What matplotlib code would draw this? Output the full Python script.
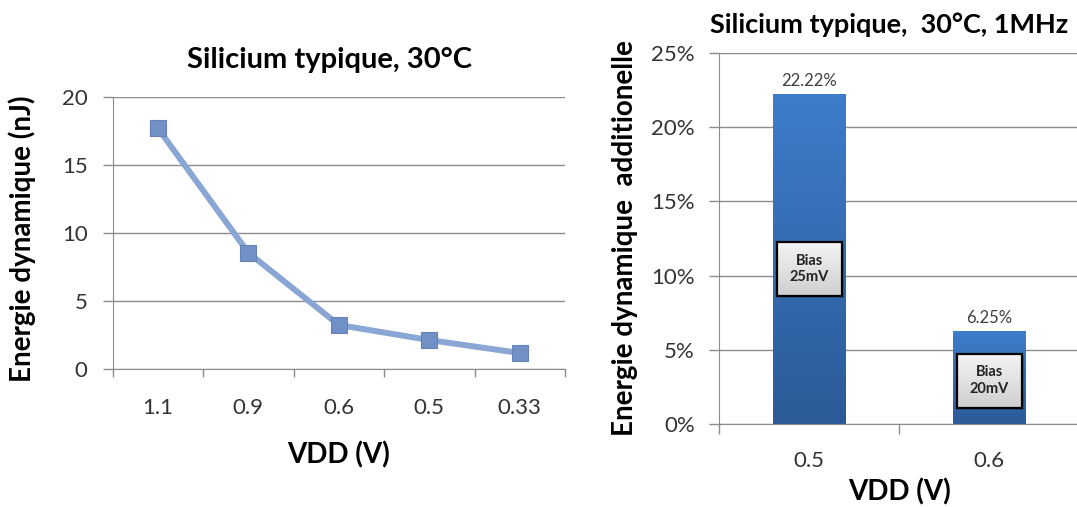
import matplotlib
matplotlib.use('Agg')
import matplotlib.pyplot as plt
import matplotlib.ticker as ticker
from matplotlib.patches import Rectangle
import numpy as np

plt.rcParams['font.family'] = ['Lato', 'DejaVu Sans']

# Left chart data: dynamic energy vs VDD
vdd_labels = ['1.1', '0.9', '0.6', '0.5', '0.33']
energy_nj = [17.72, 8.57, 3.26, 2.15, 1.2]

# Right chart data: additional dynamic energy
vdd_bar_labels = ['0.5', '0.6']
extra_energy = [22.22, 6.25]
bias_labels = ['Bias\n25mV', 'Bias\n20mV']

grid_col = '#8c8c8c'
text_col = '#333333'

fig = plt.figure(figsize=(10.77, 5.07), dpi=100)

# ---- left line chart
ax1 = fig.add_axes([0.1046, 0.2716, 0.4200, 0.5365])
x = np.arange(len(vdd_labels))
ax1.plot(x, energy_nj, color='#8aa6d4', lw=4.3, zorder=3,
         marker='s', markersize=11.5, markerfacecolor='#7190c6',
         markeredgecolor='#6482b8', markeredgewidth=0.8)
ax1.set_xlim(-0.5, len(vdd_labels) - 0.5)
ax1.set_ylim(0, 20)
ax1.yaxis.set_major_locator(ticker.MultipleLocator(5))
ax1.set_xticks(x)
ax1.set_xticklabels(vdd_labels)
ax1.xaxis.set_minor_locator(ticker.FixedLocator(np.arange(-0.5, len(vdd_labels), 1.0)))
ax1.tick_params(axis='x', which='major', length=0, pad=21, labelsize=16, labelcolor=text_col)
ax1.tick_params(axis='x', which='minor', length=5.5, color=grid_col, width=1)
ax1.tick_params(axis='y', length=7, color=grid_col, width=1, labelsize=16, labelcolor=text_col, pad=11)
ax1.grid(axis='y', color=grid_col, lw=1)
ax1.set_axisbelow(True)
for s in ['top', 'right']:
    ax1.spines[s].set_visible(False)
for s in ['left', 'bottom']:
    ax1.spines[s].set_color(grid_col)
fig.text(0.3055, 0.8817, 'Silicium typique, 30°C', ha='center', va='center',
         fontsize=21, fontweight='bold')
ax1.set_xlabel('VDD (V)', fontsize=20, fontweight='bold', va='center')
ax1.xaxis.set_label_coords(0.5, -0.315)
ax1.set_ylabel('Energie dynamique (nJ)', fontsize=20, fontweight='bold', va='center')
ax1.yaxis.set_label_coords(-0.1994, 0.479)

# ---- right bar chart
ax2 = fig.add_axes([0.6679, 0.1631, 0.3343, 0.7330])
xb = np.arange(len(vdd_bar_labels))
bw = 0.4
bars = ax2.bar(xb, extra_energy, width=bw, color='#3a74bc', zorder=2)

# vertical gradient on the bars
grad = np.linspace(0, 1, 256).reshape(-1, 1)
bar_cmap = matplotlib.colors.LinearSegmentedColormap.from_list('bar', ['#2c5a98', '#3d7dca'])
for b in bars:
    x0, w, h = b.get_x(), b.get_width(), b.get_height()
    im = ax2.imshow(grad, cmap=bar_cmap, aspect='auto', origin='lower',
                    extent=[x0, x0 + w, 0, h], zorder=2.5)
    im.set_clip_path(b)

box_cmap = matplotlib.colors.LinearSegmentedColormap.from_list('box', ['#cfcfcf', '#f4f4f4'])
box_w, box_h = 0.36, 3.63
for xi, val, lab in zip(xb, extra_energy, bias_labels):
    ax2.annotate(f'{val:.2f}%', (xi, val), xytext=(0, 9.5), textcoords='offset points',
                 ha='center', va='center', fontsize=12, color='#404040')
    yc = val * 0.47
    # shadow
    ax2.add_patch(Rectangle((xi - box_w / 2 + 0.01, yc - box_h / 2 - 0.15), box_w, box_h,
                            facecolor='#1f3f6a', alpha=0.35, lw=0, zorder=3))
    rect = Rectangle((xi - box_w / 2, yc - box_h / 2), box_w, box_h,
                     facecolor='#e2e2e2', edgecolor='none', zorder=4)
    ax2.add_patch(rect)
    im = ax2.imshow(grad, cmap=box_cmap, aspect='auto', origin='lower',
                    extent=[xi - box_w / 2, xi + box_w / 2, yc - box_h / 2, yc + box_h / 2], zorder=4.1)
    im.set_clip_path(rect)
    ax2.add_patch(Rectangle((xi - box_w / 2, yc - box_h / 2), box_w, box_h,
                            facecolor='none', edgecolor='black', lw=1.6, zorder=4.2))
    ax2.text(xi, yc, lab, ha='center', va='center', fontsize=10.5, fontweight='bold',
             color='#222222', linespacing=1.25, zorder=5)

ax2.set_xlim(-0.5, len(vdd_bar_labels) - 0.5)
ax2.set_ylim(0, 25)
ax2.yaxis.set_major_locator(ticker.MultipleLocator(5))
ax2.yaxis.set_major_formatter(ticker.FuncFormatter(lambda v, p: f'{v:.0f}%'))
ax2.set_xticks(xb)
ax2.set_xticklabels(vdd_bar_labels)
ax2.xaxis.set_minor_locator(ticker.FixedLocator(np.arange(-0.5, len(vdd_bar_labels), 1.0)))
ax2.tick_params(axis='x', which='major', length=0, pad=19, labelsize=16, labelcolor=text_col)
ax2.tick_params(axis='x', which='minor', length=7, color=grid_col, width=1)
ax2.tick_params(axis='y', length=7, color=grid_col, width=1, labelsize=16, labelcolor=text_col, pad=10.5)
ax2.grid(axis='y', color=grid_col, lw=1)
ax2.set_axisbelow(True)
for s in ['top', 'right']:
    ax2.spines[s].set_visible(False)
for s in ['left', 'bottom']:
    ax2.spines[s].set_color(grid_col)
ax2.set_xlabel('VDD (V)', fontsize=20, fontweight='bold', va='center')
ax2.xaxis.set_label_coords(0.5, -0.182)
ax2.set_ylabel('Energie dynamique  additionelle', fontsize=20, fontweight='bold', va='center')
ax2.yaxis.set_label_coords(-0.262, 0.501)
fig.text(0.8255, 0.9507, 'Silicium typique,  30°C, 1MHz', ha='center', va='center',
         fontsize=19.5, fontweight='bold')

fig.savefig('out.png', dpi=100)
